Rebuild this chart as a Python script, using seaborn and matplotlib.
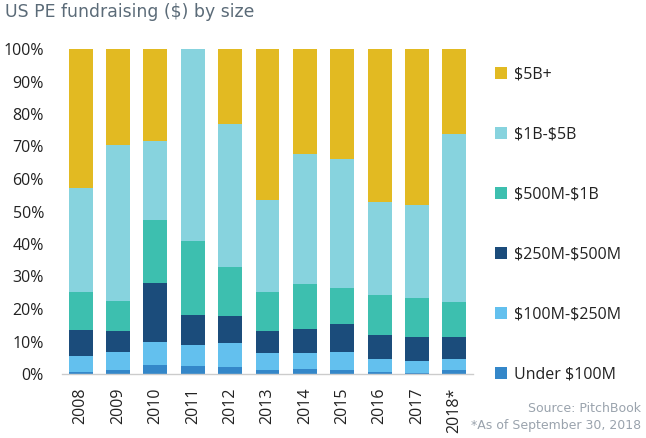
import matplotlib
matplotlib.use("Agg")
import matplotlib.pyplot as plt
import seaborn as sns
import numpy as np
from matplotlib.patches import Patch

years = ["2008", "2009", "2010", "2011", "2012", "2013", "2014", "2015", "2016", "2017", "2018*"]
series_names = ["Under \\$100M", "\\$100M-\\$250M", "\\$250M-\\$500M", "\\$500M-\\$1B", "\\$1B-\\$5B", "\\$5B+"]
under_100m = [0.7, 1.2, 2.9, 2.6, 2.3, 1.2, 1.5, 1.2, 0.7, 0.4, 1.2]
m100_250 = [4.8, 5.6, 6.8, 6.3, 7.1, 5.2, 4.9, 5.7, 3.9, 3.5, 3.4]
m250_500 = [8.0, 6.4, 18.4, 9.4, 8.4, 6.7, 7.5, 8.4, 7.3, 7.6, 6.9]
m500_1b = [11.6, 9.3, 19.3, 22.6, 15.1, 12.1, 13.8, 11.2, 12.4, 11.9, 10.7]
b1_5 = [32.2, 48.0, 24.3, 59.1, 44.0, 28.3, 40.0, 39.7, 28.7, 28.7, 51.6]
b5_plus = [42.7, 29.5, 28.3, 0.0, 23.1, 46.5, 32.3, 33.8, 47.0, 47.9, 26.2]
colors = ["#3487C9", "#63C0EE", "#1B4C7B", "#3DBFAF", "#87D3DE", "#E2BA22"]

sns.set_theme(style="white")
plt.rcParams['font.family'] = ['Open Sans', 'DejaVu Sans']

fig = plt.figure(figsize=(6.46, 4.38), dpi=100)
ax = fig.add_axes([62/646, 1-374/438, (473-62)/646, (374-49)/438])

segments = [under_100m, m100_250, m250_500, m500_1b, b1_5, b5_plus]
cum = np.cumsum(np.array(segments), axis=0)
for i in range(len(segments) - 1, -1, -1):
    sns.barplot(x=years, y=cum[i], color=colors[i], width=0.64, ax=ax,
                saturation=1, linewidth=0, order=years)

ax.set_ylim(0, 100)
ax.set_xlim(-0.5, 10.5)
ax.set_yticks(np.arange(0, 101, 10))
ax.set_yticklabels([f"{v}%" for v in range(0, 101, 10)], fontsize=11.5, color="#222222")
ax.set_xticks(range(len(years)))
ax.set_xticklabels(years, rotation=90, fontsize=11.5, color="#222222")
ax.tick_params(axis="y", length=0, pad=13)
ax.tick_params(axis="x", length=0, pad=10)
ax.set_xlabel("")
ax.set_ylabel("")
for s in ["top", "right", "left"]:
    ax.spines[s].set_visible(False)
ax.spines["bottom"].set_color("#cccccc")
ax.spines["bottom"].set_linewidth(1)

handles = [Patch(facecolor=colors[i], edgecolor="none", label=series_names[i]) for i in range(5, -1, -1)]
fig.legend(handles=handles, loc="upper left", bbox_to_anchor=(481/646, 1-52/438),
           frameon=False, fontsize=11.5, labelspacing=2.76, handlelength=0.75,
           handleheight=0.75, handletextpad=0.4, labelcolor="#222222")

fig.text(5/646, 1-12/438, "US PE fundraising (\\$) by size", fontsize=12.4, color="#5b6b78",
         ha="left", va="center", family="DejaVu Sans")
fig.text(641/646, 1-408/438, "Source: PitchBook", fontsize=9, color="#9aa3ad", ha="right", va="center",
         family="DejaVu Sans")
fig.text(641/646, 1-425/438, "*As of September 30, 2018", fontsize=9, color="#9aa3ad", ha="right", va="center",
         family="DejaVu Sans")

fig.savefig("out.png", dpi=100)
